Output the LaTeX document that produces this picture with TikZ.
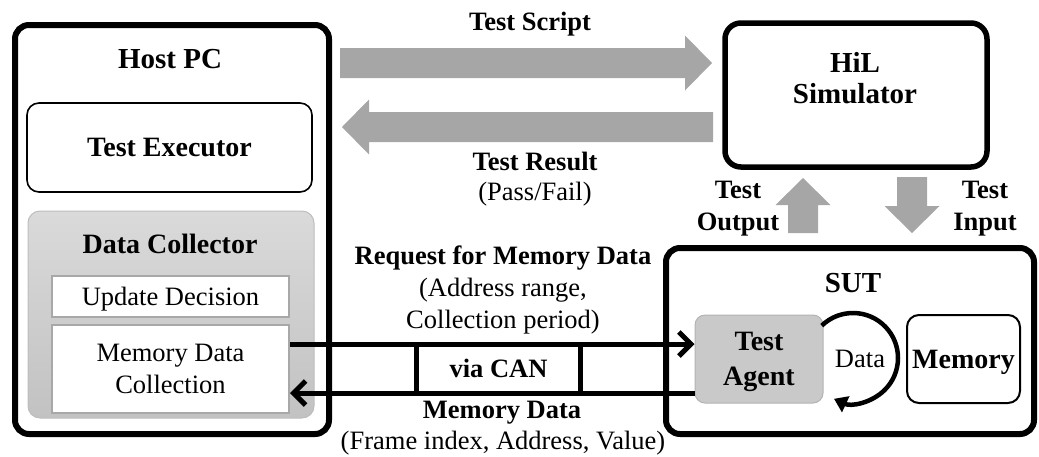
\documentclass[tikz,border=0pt]{standalone}
\usepackage{fontspec}
\setmainfont{Liberation Serif}
\usetikzlibrary{arrows.meta,calc}

\definecolor{blockgray}{HTML}{A6A6A6}
\definecolor{dctop}{HTML}{DADADA}
\definecolor{dcbot}{HTML}{C2C2C2}
\definecolor{dcedge}{HTML}{BDBDBD}
\definecolor{subedge}{HTML}{A8A8A8}
\definecolor{agentfill}{HTML}{C9C9C9}
\definecolor{agentedge}{HTML}{B3B3B3}

% wide gray block arrow from #1 to the tip #2
\newcommand\blockarrow[2]{%
  \path ($(#2)!27pt!(#1)$) coordinate (bh);
  \fill[blockgray]
    ($(#1)!15pt!90:(#2)$) -- ($(bh)!15pt!90:(#2)$) -- ($(bh)!27.5pt!90:(#2)$)
    -- (#2)
    -- ($(bh)!27.5pt!-90:(#2)$) -- ($(bh)!15pt!-90:(#2)$) -- ($(#1)!15pt!-90:(#2)$)
    -- cycle;}

\begin{document}
\begin{tikzpicture}[x=1pt,y=-1pt,
  frame/.style={draw=black, line width=6pt, rounded corners=14pt, inner sep=0pt},
  thinbox/.style={draw=black, line width=1.6pt, rounded corners=12pt, inner sep=0pt},
  subbox/.style={draw=subedge, fill=white, line width=2pt, inner sep=0pt},
  title/.style={font=\fontsize{29}{32}\selectfont\bfseries, inner sep=0pt, anchor=base},
  boldlbl/.style={font=\fontsize{26.5}{32}\selectfont\bfseries, inner sep=0pt, align=center},
  plainlbl/.style={font=\fontsize{26.5}{32}\selectfont, inner sep=0pt, align=center},
  link/.style={line width=5pt},
  barb/.style={-{Straight Barb[length=12pt,width=24pt]}}
]
\useasboundingbox (0,0) rectangle (1039,456);

% ---- Host PC ----
\node[frame, minimum width=314pt, minimum height=409pt] (host) at (172,229.5) {};
\node[title] (hosttitle) at (170,68) {Host PC};
\node[thinbox, minimum width=285pt, minimum height=89pt,
      font=\fontsize{28}{32}\selectfont\bfseries] (executor) at (169.5,147.5) {Test Executor};
\node[draw=dcedge, line width=1pt, rounded corners=12pt, top color=dctop, bottom color=dcbot,
      minimum width=286pt, minimum height=207pt, inner sep=0pt] (collector) at (171,314.5) {};
\node[font=\fontsize{28}{32}\selectfont\bfseries, inner sep=0pt, anchor=base] (coltitle) at (170,253) {Data Collector};
\node[subbox, minimum width=237pt, minimum height=41pt, text depth=0pt,
      font=\fontsize{26.5}{32}\selectfont] (update) at (170.5,296.5) {Update Decision};
\node[subbox, minimum width=237pt, minimum height=88pt, align=center,
      font=\fontsize{26.5}{32}\selectfont] (mdc) at (170.5,369) {Memory Data\\Collection};

% ---- HiL Simulator ----
\node[frame, line width=5.5pt, rounded corners=16pt, minimum width=262pt, minimum height=144pt] (hil) at (856,95) {};
\node[font=\fontsize{29}{31}\selectfont\bfseries, inner sep=0pt, align=center, anchor=base] (hiltitle) at (855,103) {HiL\\Simulator};

% ---- SUT ----
\node[frame, minimum width=368pt, minimum height=186pt] (sut) at (850,341) {};
\node[title] (suttitle) at (853,292) {SUT};
\node[draw=agentedge, fill=agentfill, line width=1pt, rounded corners=10pt,
      minimum width=128pt, minimum height=88pt, inner sep=0pt, align=center, text depth=0pt,
      font=\fontsize{28}{35}\selectfont\bfseries] (agent) at (759,359) {Test\\Agent};
\node[draw=black, line width=2pt, rounded corners=12pt, minimum width=113pt, minimum height=88pt,
      inner sep=0pt, text depth=0pt, font=\fontsize{28}{32}\selectfont\bfseries] (memory) at (963.5,359) {Memory};

% ---- internal data loop ----
\coordinate (loopc) at (853,358);
\draw[line width=4.5pt, -{Triangle[length=13pt,width=17pt]}]
  ($(loopc)+(-134:45)$) arc[start angle=-134, end angle=115, radius=45];
\node[plainlbl, anchor=base] (datalbl) at (860,367) {Data};

% ---- HiL <-> Host PC ----
\coordinate (scriptS) at (340,63);  \coordinate (scriptT) at (712,63);
\coordinate (resultS) at (713,127); \coordinate (resultT) at (342,127);
\blockarrow{scriptS}{scriptT}
\blockarrow{resultS}{resultT}
\node[boldlbl, anchor=base] (scriptlbl) at (530,30) {Test Script};
\node[boldlbl, anchor=base] (resultlbl) at (535,170) {Test Result};
\node[plainlbl, anchor=base] (passfail) at (535,200) {(Pass/Fail)};

% ---- HiL <-> SUT ----
\coordinate (outS) at (803,233); \coordinate (outT) at (803,178);
\coordinate (inS) at (912,177);  \coordinate (inT) at (912,233);
\blockarrow{outS}{outT}
\blockarrow{inS}{inT}
\node[boldlbl, anchor=base] (outlbl) at (738,230) {Test\\Output};
\node[boldlbl, anchor=base] (inlbl) at (985,230) {Test\\Input};

% ---- CAN link ----
\node[minimum width=163pt, minimum height=49pt, inner sep=0pt] (can) at (498.5,368.5) {};
\node[boldlbl, anchor=base] (canlbl) at (498.5,377) {via CAN};
\draw[link, barb] (mdc.east |- 0,344) -- (agent.west |- 0,344);
\draw[link, barb] (agent.west |- 0,393) -- (mdc.east |- 0,393);
\draw[link] (can.north west) -- (can.south west);
\draw[link] (can.north east) -- (can.south east);

\node[boldlbl, anchor=base] (reqlbl) at (503,264) {Request for Memory Data};
\node[plainlbl, anchor=base] (reqdetail) at (503,328) {(Address range,\\Collection period)};
\node[boldlbl, anchor=base] (memlbl) at (502,418) {Memory Data};
\node[plainlbl, anchor=base] (memdetail) at (503,449) {(Frame index, Address, Value)};
\end{tikzpicture}
\end{document}
